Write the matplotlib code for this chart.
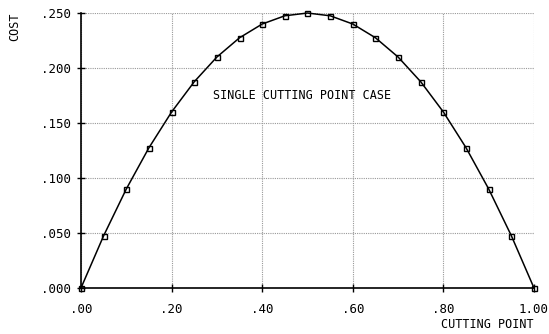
import matplotlib
matplotlib.use('Agg')
import matplotlib.pyplot as plt
from matplotlib.ticker import FuncFormatter, MultipleLocator

# Data
cut_point = [0.00, 0.05, 0.10, 0.15, 0.20, 0.25, 0.30, 0.35, 0.40, 0.45, 0.50,
             0.55, 0.60, 0.65, 0.70, 0.75, 0.80, 0.85, 0.90, 0.95, 1.00]
cost = [0.000, 0.0475, 0.090, 0.1275, 0.160, 0.1875, 0.210, 0.2275, 0.240, 0.2475, 0.250,
        0.2475, 0.240, 0.2275, 0.210, 0.1875, 0.160, 0.1275, 0.090, 0.0475, 0.000]

plt.rcParams['font.family'] = ['DejaVu Sans Mono']

fig = plt.figure(figsize=(5.49, 3.34), dpi=100)
ax = fig.add_axes([0.1475, 0.1377, 0.8252, 0.8233])

ax.plot(cut_point, cost, color='black', lw=1.1, marker='s', markersize=3.6,
        markerfacecolor='none', markeredgecolor='black', markeredgewidth=1.0, clip_on=False, zorder=3)

ax.set_xlim(0, 1.0)
ax.set_ylim(0, 0.25)
ax.xaxis.set_major_locator(MultipleLocator(0.2))
ax.yaxis.set_major_locator(MultipleLocator(0.05))

def strip_zero(fmt):
    return FuncFormatter(lambda v, p: (fmt % v)[1:] if (fmt % v).startswith('0') else fmt % v)

ax.xaxis.set_major_formatter(strip_zero('%.2f'))
ax.yaxis.set_major_formatter(strip_zero('%.3f'))

ax.grid(True, color='#999999', linestyle=(0, (1, 1)), lw=0.8)
for side in ['top', 'right']:
    ax.spines[side].set_visible(False)
for side in ['left', 'bottom']:
    ax.spines[side].set_linewidth(1.2)

ax.tick_params(direction='inout', length=6, width=1, labelsize=9)
ax.tick_params(axis='x', pad=8)
ax.tick_params(axis='y', pad=4)

fig.text(0.027, 0.92, 'COST', rotation=90, ha='center', va='center', fontsize=8.5)
ax.set_xlabel('CUTTING POINT', fontsize=8.5, loc='right', labelpad=1)
ax.text(0.291, 0.175, 'SINGLE CUTTING POINT CASE', fontsize=8.5, va='center', ha='left')

fig.savefig('out.png', dpi=100)
